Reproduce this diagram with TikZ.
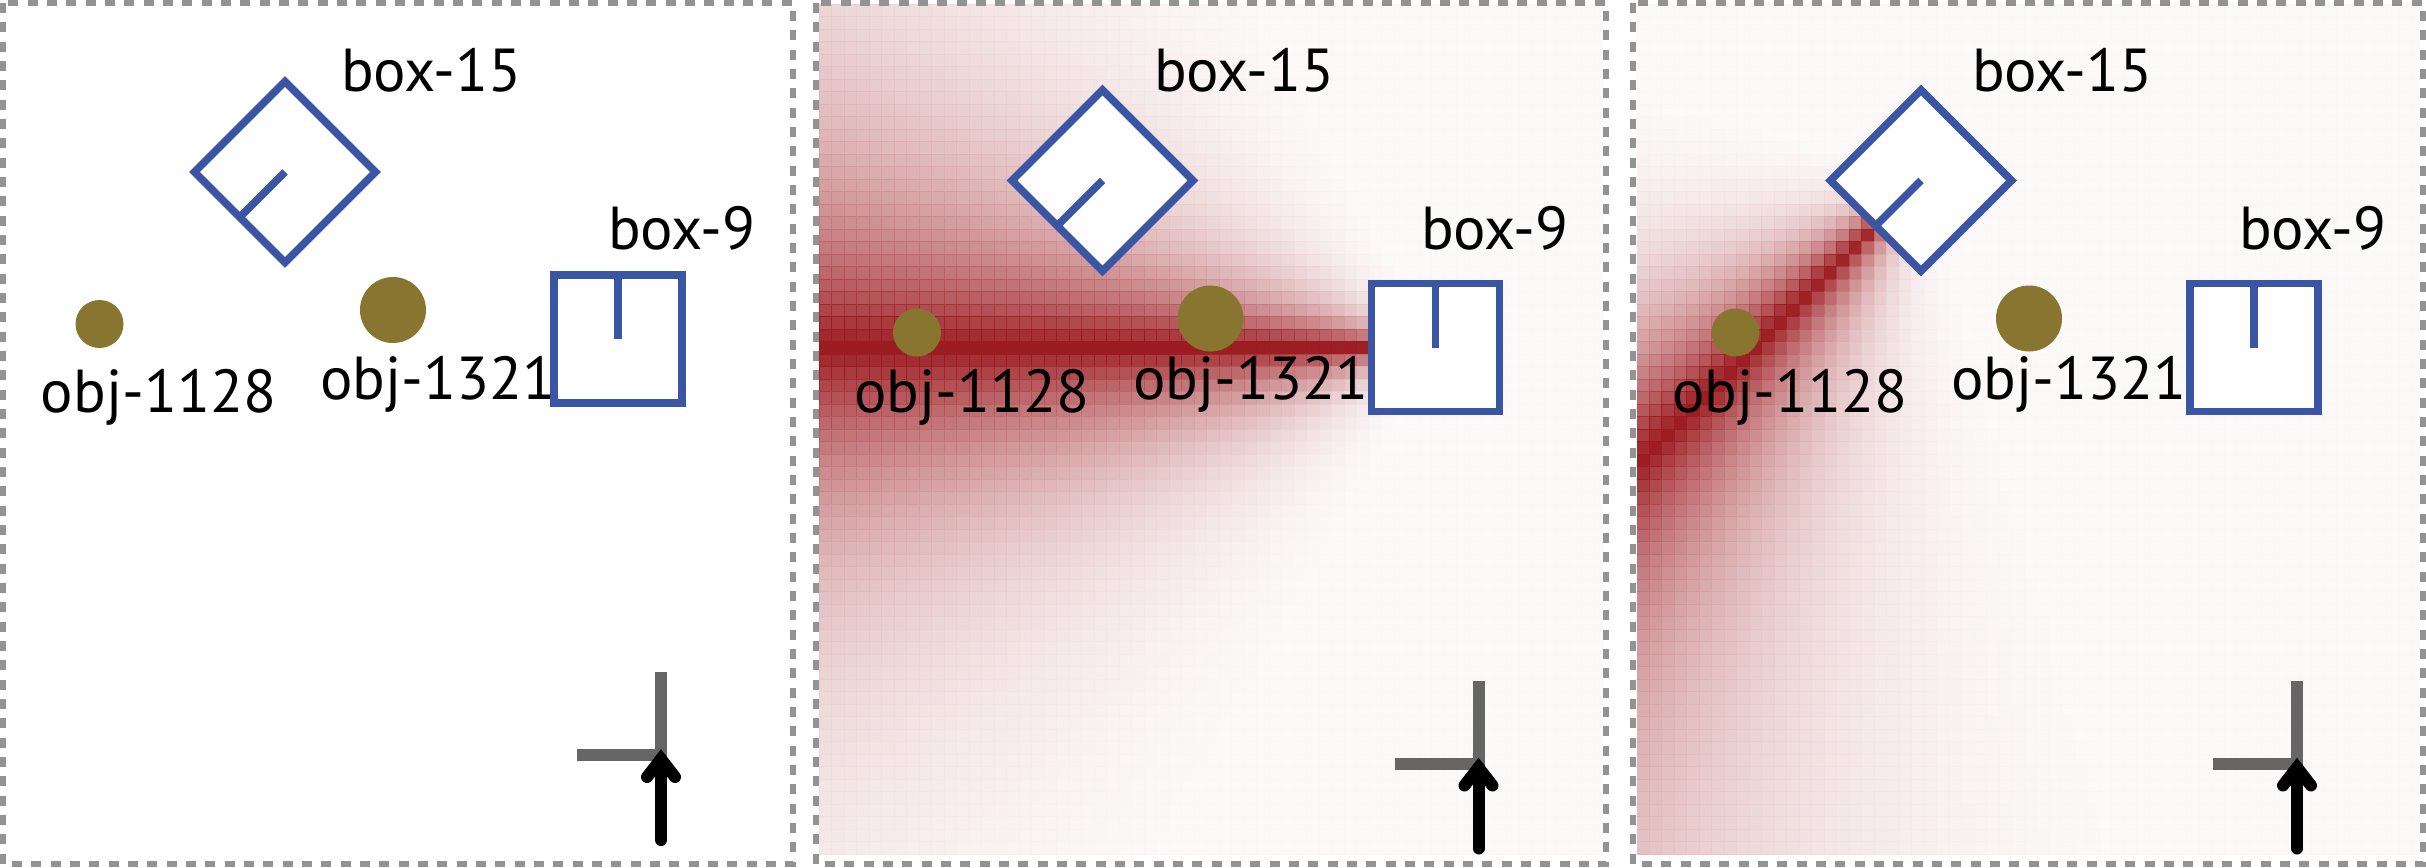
\documentclass[tikz,border=0pt]{standalone}
\usepackage{fontspec}
\setmainfont{PT Sans}
\definecolor{heatred}{RGB}{155,27,32}
\definecolor{boxblue}{RGB}{58,85,164}
\definecolor{objolive}{RGB}{135,117,48}
\definecolor{framegray}{RGB}{147,147,147}
\definecolor{crossgray}{RGB}{102,102,102}
\tikzset{
  boxnode/.style={rectangle, draw=boxblue, line width=2.3pt, fill=white, minimum size=38.4pt, inner sep=0pt, outer sep=0pt},
  objnode/.style={circle, fill=objolive, inner sep=0pt, outer sep=0pt},
  lbl/.style={font=\fontsize{18.2}{22}\selectfont, anchor=base west, inner sep=0pt, outer sep=0pt},
  tickline/.style={draw=boxblue, line width=2.3pt},
  panelframe/.style={draw=framegray, line width=1.8pt, dash pattern=on 3pt off 2.8pt},
  crossbar/.style={draw=crossgray, line width=3.6pt},
  headarrow/.style={draw=black, line width=3.6pt, line cap=round}
}
% #1 grid x origin, #2 apex x, #3 apex y, #4 ux, #5 uy
\newcommand\myheat[5]{%
  \foreach \i in {0,...,62}{%
    \foreach \j in {0,...,67}{%
      \pgfmathsetmacro\cx{#1+(\i+0.5)*12.5}%
      \pgfmathsetmacro\cy{4.2+(\j+0.5)*12.5}%
      \pgfmathsetmacro\dx{\cx-(#2)}%
      \pgfmathsetmacro\dy{\cy-(#3)}%
      \pgfmathsetmacro\al{(\dx)*(#4)+(\dy)*(#5)}%
      \pgfmathsetmacro\pe{abs((\dy)*(#4)-(\dx)*(#5))}%
      \pgfmathsetmacro\th{min(atan2(\pe,\al),100)}%
      \pgfmathsetmacro\pc{max(2.5,100*exp(-\th/17))}%
      \pgfmathsetmacro\pd{min(100,1.15*\pc+0.6)}%
      \filldraw[fill=heatred!\pc!white, draw=heatred!\pd!white, line width=0.2pt]
        (\cx-6.25,\cy-6.25) rectangle (\cx+6.25,\cy+6.25);
    }%
  }%
}
\begin{document}
\begin{tikzpicture}[x=0.3pt,y=-0.3pt]
\useasboundingbox (0,0) rectangle (2426,868);
\fill[white] (0,0) rectangle (2426,868);
% heat maps
\begin{scope}
  \clip (819,4.2) rectangle (1603,854.2);
  \myheat{819.3}{1435.5}{347.5}{-1}{0}
\end{scope}
\begin{scope}
  \clip (1637,4.2) rectangle (2420,854.2);
  \myheat{1636.7}{1921}{180.5}{-0.7071}{0.7071}
\end{scope}
% frames
\draw[panelframe] (3,3) rectangle (793,864);
\draw[panelframe] (816,3) rectangle (1606,864);
\draw[panelframe] (1633,3) rectangle (2423,864);
% panel contents
\foreach \k/\sx/\sy/\tx in {a/0/0/0, b/817.5/8.5/813, c/1636/8.5/1631}{
  \node[boxnode, rotate=45] (bxf\k) at (285+\sx,172+\sy) {};
  \draw[tickline] (bxf\k.center) -- (bxf\k.west);
  \node[boxnode] (bxn\k) at (618+\sx,339+\sy) {};
  \draw[tickline] (bxn\k.center) -- (bxn\k.north);
  \node[objnode, minimum size=14.4pt] (oa\k) at (99.5+\sx,324+\sy) {};
  \node[objnode, minimum size=19.8pt] (ob\k) at (393+\sx,310+\sy) {};
  \node[lbl] (lf\k) at (341+\tx,91) {box-15};
  \node[lbl] (ln\k) at (608+\tx,249) {box-9};
  \node[lbl] (lo\k) at (41+\tx,412) {obj-1128};
  \node[lbl] (lp\k) at (320+\tx,399) {obj-1321};
  \coordinate (ch\k) at (577+\sx,755+\sy);
  \coordinate (cc\k) at (661+\sx,755+\sy);
  \coordinate (cv\k) at (661+\sx,672+\sy);
  \draw[crossbar] (ch\k) -- (cc\k) -- (cv\k);
  \coordinate (ab\k) at (661+\sx,840+\sy);
  \coordinate (at\k) at (661+\sx,759+\sy);
  \coordinate (al\k) at (647+\sx,777+\sy);
  \coordinate (ar\k) at (675+\sx,777+\sy);
  \draw[headarrow] (ab\k) -- (at\k);
  \draw[headarrow, line join=miter] (al\k) -- (at\k) -- (ar\k);
}
\end{tikzpicture}
\end{document}
